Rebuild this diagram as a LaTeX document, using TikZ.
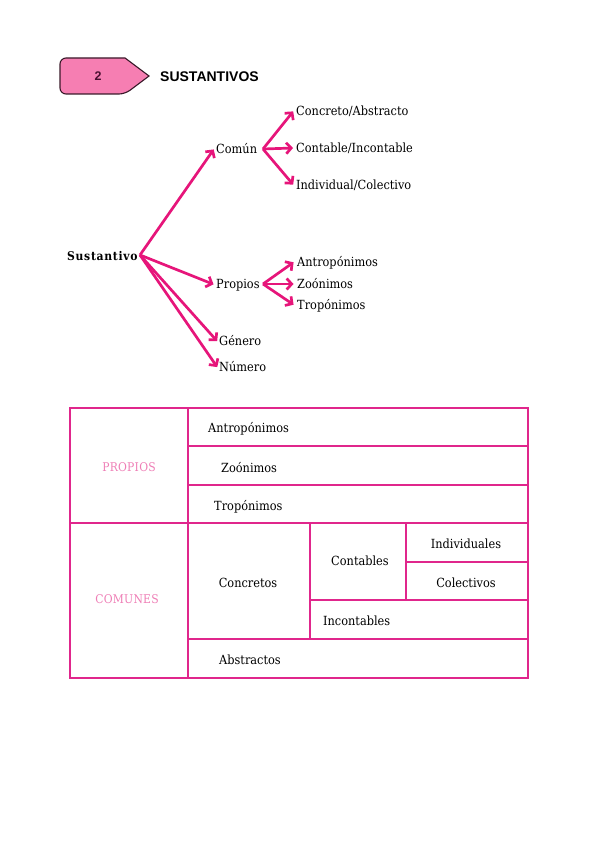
\documentclass[tikz,border=0pt]{standalone}
\usepackage{fontspec}
\setmainfont{DejaVu Serif}[FakeStretch=0.9]
\newfontfamily\headfont{Liberation Sans}
\usetikzlibrary{arrows.meta}
\definecolor{arrowpink}{HTML}{E6157A}
\definecolor{linepink}{HTML}{E0268C}
\definecolor{lightpink}{HTML}{EE7DB5}
\definecolor{tagfill}{HTML}{F67EB2}
\definecolor{tagline}{HTML}{3A1A2A}
\definecolor{numcol}{HTML}{4A1030}
\tikzset{
  lbl/.style={inner sep=0pt, font=\fontsize{12.6}{14}\selectfont, text height=9pt, text depth=0pt},
  lw/.style={lbl, anchor=base west},
  lc/.style={lbl, anchor=base},
  catlbl/.style={lc, text=lightpink, font=\fontsize{12}{14}\selectfont\addfontfeature{LetterSpace=2}},
  arr/.style={draw=arrowpink, line width=2.7pt, -{Straight Barb[length=5pt,width=11pt]}, shorten >=0.5pt},
  grid/.style={draw=linepink, line width=1.8pt},
  tag/.style={draw=tagline, fill=tagfill, line width=1.1pt}
}
\begin{document}
\begin{tikzpicture}[x=1pt,y=-1pt]
\useasboundingbox (0,0) rectangle (600,848);
% header
\draw[tag] (149,76) -- (125,58) [rounded corners=6pt] -- (60,58) -- (60,94) -- (125,94) [sharp corners] -- cycle;
\node[inner sep=0pt, text=numcol, font=\headfont\bfseries\fontsize{12.5}{14}\selectfont] (num) at (98,76) {2};
\node[anchor=west, inner sep=0pt, font=\headfont\bfseries\fontsize{14}{16}\selectfont] (title) at (160,76.5) {SUSTANTIVOS};
% tree
\node[lw, font=\bfseries\fontsize{12}{14}\selectfont] (sus) at (67,260) {S\kern0.7pt u\kern0.7pt s\kern0.7pt t\kern0.7pt a\kern0.7pt n\kern0.7pt t\kern0.7pt i\kern0.7pt v\kern0.7pt o};
\node[lw] (comun) at (216,153.5) {Común};
\node[lw] (prop) at (216,288.5) {Propios};
\node[lw] (gen) at (219,345.5) {Género};
\node[lw] (numr) at (219,371.5) {Número};
\node[lw] (ca) at (296,115.5) {Concreto/Abstracto};
\node[lw] (ci) at (296,152.5) {Contable/Incontable};
\node[lw] (ic) at (296,189.5) {Individual/Colectivo};
\node[lw] (an) at (297,266.5) {Antropónimos};
\node[lw] (zo) at (297,288.5) {Zoónimos};
\node[lw] (tr) at (297,309.5) {Tropónimos};
\coordinate (s0) at (140,255);
\coordinate (c0) at (263,149);
\coordinate (p0) at (263,284);
\draw[arr] (s0) -- ([xshift=-2pt]comun.west);
\draw[arr] (s0) -- ([xshift=-2pt,yshift=-0.5pt]prop.west);
\draw[arr] (s0) -- ([xshift=-1.5pt,yshift=-0.5pt]gen.west);
\draw[arr] (s0) -- ([xshift=-1.5pt,yshift=-0.5pt]numr.west);
\draw[arr] (c0) -- ([xshift=-2.5pt]ca.west);
\draw[arr] (c0) -- ([xshift=-2.5pt]ci.west);
\draw[arr] (c0) -- ([xshift=-2.5pt]ic.west);
\draw[arr] (p0) -- ([xshift=-3pt]an.west);
\draw[arr] (p0) -- ([xshift=-3pt]zo.west);
\draw[arr] (p0) -- ([xshift=-3pt]tr.west);
% table
\draw[grid] (70,408) rectangle (528,678);
\draw[grid] (188,408) -- (188,678);
\draw[grid] (188,446) -- (528,446);
\draw[grid] (188,485) -- (528,485);
\draw[grid] (70,523) -- (528,523);
\draw[grid] (310,523) -- (310,639);
\draw[grid] (406,523) -- (406,600);
\draw[grid] (406,562) -- (528,562);
\draw[grid] (310,600) -- (528,600);
\draw[grid] (188,639) -- (528,639);
\node[catlbl] (tprop) at (129,471.5) {PROPIOS};
\node[catlbl] (tcom) at (127,603.5) {COMUNES};
\node[lw] (tan) at (208,432.5) {Antropónimos};
\node[lw] (tzo) at (221,472) {Zoónimos};
\node[lw] (ttr) at (214,510) {Tropónimos};
\node[lc] (tconc) at (248,587) {Concretos};
\node[lc] (tcont) at (360,565) {Contables};
\node[lc] (tind) at (466,548) {Individuales};
\node[lc] (tcol) at (466,587) {Colectivos};
\node[lw] (tinc) at (323,625) {Incontables};
\node[lw] (tabs) at (219,664) {Abstractos};
\end{tikzpicture}
\end{document}
